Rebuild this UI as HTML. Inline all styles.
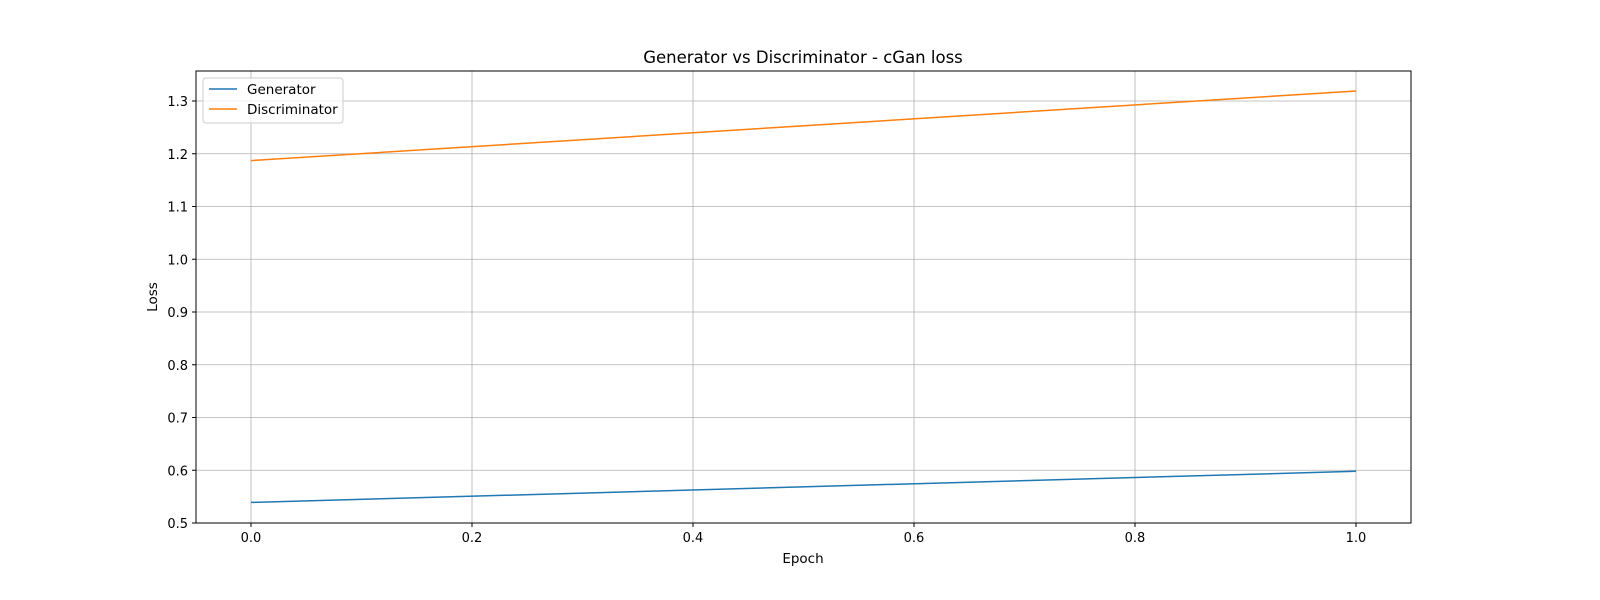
<!DOCTYPE html>
<html><head><meta charset="utf-8"><style>
html,body{margin:0;padding:0;background:#fff;overflow:hidden;width:1600px;height:600px;}
svg{display:block;}
svg text{font-family:"DejaVu Sans","Liberation Sans",sans-serif;fill:#000;}
</style></head><body>
<svg width="1600" height="600" xmlns="http://www.w3.org/2000/svg">
<rect width="1600" height="600" fill="#fff"/>
<text x="803" y="63" font-size="16.5" text-anchor="middle">Generator vs Discriminator - cGan loss</text>
<g id="grid"></g>
<g id="series"></g>
<rect x="196" y="71" width="1215" height="452" fill="none" stroke="#000" stroke-width="1"/>
<g id="ticks"></g>
<text x="803" y="563" font-size="13.5" text-anchor="middle">Epoch</text>
<text transform="translate(157,297) rotate(-90)" font-size="13.5" text-anchor="middle">Loss</text>
<g>
<rect x="203" y="78" width="140" height="45" rx="3" fill="#fff" fill-opacity="0.8" stroke="#ccc"/>
<line x1="209" y1="89" x2="237" y2="89" stroke="#1f77b4" stroke-width="1.5"/>
<text x="247" y="94" font-size="13.5">Generator</text>
<line x1="209" y1="109" x2="237" y2="109" stroke="#ff7f0e" stroke-width="1.5"/>
<text x="247" y="114" font-size="13.5">Discriminator</text>
</g>
</svg>
<script>
const epochs = [0, 1];
const generatorLoss = [0.539, 0.598];
const discriminatorLoss = [1.187, 1.319];
const xTicks = [0.0, 0.2, 0.4, 0.6, 0.8, 1.0];
const yTicks = [0.5, 0.6, 0.7, 0.8, 0.9, 1.0, 1.1, 1.2, 1.3];
const NS = "http://www.w3.org/2000/svg";
const X = v => 251 + (v - 0) * 1105;
const Y = v => 523 - (v - 0.5) * 527.5;
function mk(tag, attrs, parent){const e=document.createElementNS(NS,tag);for(const k in attrs)e.setAttribute(k,attrs[k]);parent.appendChild(e);return e;}
const grid=document.getElementById('grid'), ticks=document.getElementById('ticks'), series=document.getElementById('series');
xTicks.forEach(t=>{
  const g=mk('line',{x1:X(t),x2:X(t),y1:71,y2:523,stroke:'#b0b0b0','stroke-width':0.8},grid);
  
  
  mk('line',{x1:X(t),x2:X(t),y1:523,y2:527,stroke:'#000'},ticks);
  const tx=mk('text',{x:X(t),y:542,'font-size':13,'text-anchor':'middle'},ticks);
  tx.textContent=t.toFixed(1);
  
  
});
yTicks.forEach(t=>{
  const g=mk('line',{x1:196,x2:1411,y1:Y(t),y2:Y(t),stroke:'#b0b0b0','stroke-width':0.8},grid);
  
  
  mk('line',{x1:192,x2:196,y1:Y(t),y2:Y(t),stroke:'#000'},ticks);
  const tx=mk('text',{x:188,y:Y(t)+5,'font-size':13,'text-anchor':'end'},ticks);
  tx.textContent=t.toFixed(1);
  
  
});
function line(vals,color,name){
  const p=mk('polyline',{points:epochs.map((e,i)=>X(e)+','+Y(vals[i])).join(' '),fill:'none',stroke:color,'stroke-width':1.5},series);
  
  
}
line(generatorLoss,'#1f77b4','generator-line');
line(discriminatorLoss,'#ff7f0e','discriminator-line');
</script>
</body></html>
